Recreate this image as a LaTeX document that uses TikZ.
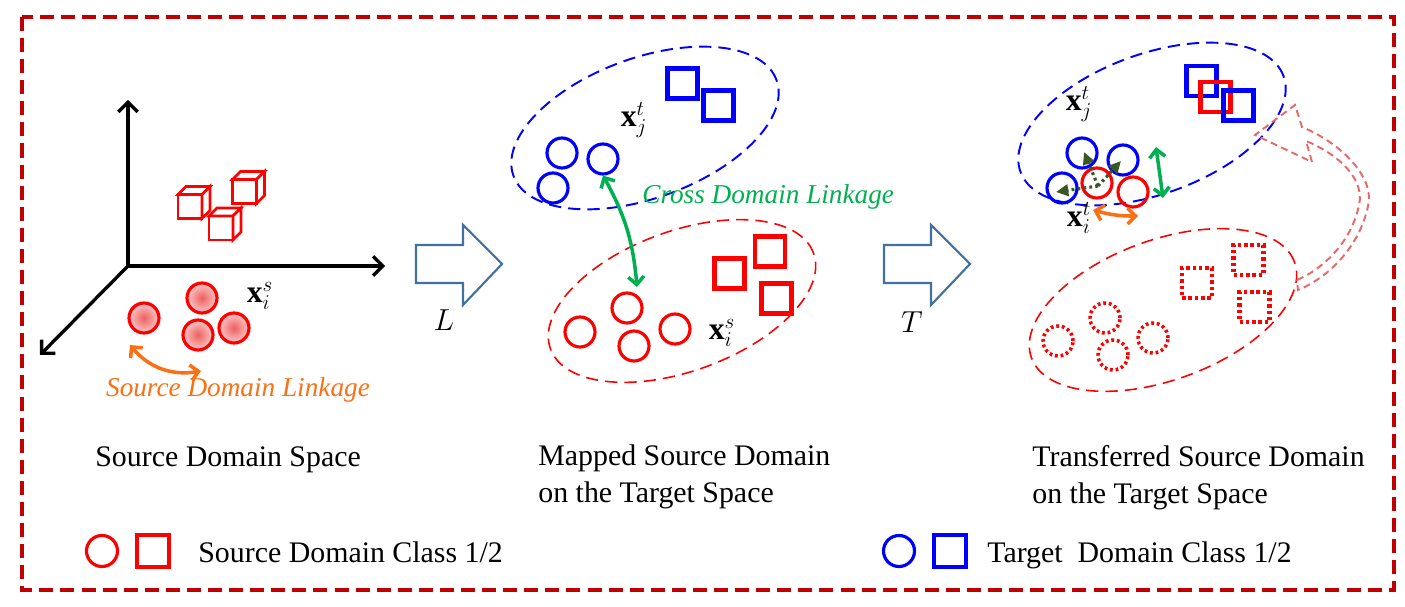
\documentclass[tikz,border=0pt]{standalone}
\usepackage{fontspec}
\setmainfont{Liberation Serif}
\usetikzlibrary{arrows.meta,calc}
\definecolor{bordred}{RGB}{192,0,0}
\definecolor{myred}{RGB}{255,0,0}
\definecolor{myblue}{RGB}{0,0,255}
\definecolor{lgreen}{RGB}{0,176,80}
\definecolor{dgreen}{RGB}{56,87,35}
\definecolor{myorange}{RGB}{250,112,20}
\definecolor{steel}{RGB}{65,113,156}
\definecolor{pinkred}{RGB}{232,105,105}
\definecolor{shin}{RGB}{238,95,95}
\definecolor{shout}{RGB}{250,200,200}
\tikzset{
  circ/.style={circle,draw,line width=1.8pt,minimum size=0.6cm,inner sep=0pt},
  rcirc/.style={circ,draw=myred},
  bcirc/.style={circ,draw=myblue},
  scirc/.style={rcirc,inner color=shin,outer color=shout},
  dcirc/.style={rcirc,line width=2pt,dash pattern=on 1.6pt off 1.6pt},
  sqr/.style={rectangle,draw,line width=2.4pt,minimum size=0.6cm,inner sep=0pt},
  rsq/.style={sqr,draw=myred},
  bsq/.style={sqr,draw=myblue},
  dsq/.style={rsq,dash pattern=on 2pt off 1.6pt},
  lbl/.style={font=\fontsize{17}{20}\selectfont,inner sep=0pt,anchor=base west},
  ital/.style={font=\fontsize{15.5}{18}\selectfont\itshape,inner sep=0pt},
  mlbl/.style={font=\fontsize{18}{20}\selectfont,inner sep=0pt},
  axis/.style={line width=1.9pt,-{Straight Barb[length=5.5pt,width=11pt]}},
  link/.style={line width=2pt,{Straight Barb[length=4.5pt,width=9pt]}-{Straight Barb[length=4.5pt,width=9pt]}},
  blockarr/.style={draw=steel,line width=1.2pt,line join=miter},
  bell/.style={draw=myblue,line width=1.1pt,dash pattern=on 7pt off 4pt},
  rell/.style={draw=myred,line width=0.9pt,dash pattern=on 7pt off 4pt},
  dotarr/.style={draw=dgreen,line width=1.8pt,dash pattern=on 1.6pt off 1.8pt,-{Triangle[length=7pt,width=6.5pt]}},
  cube/.pic={
    \draw[myred,line width=1.6pt,fill=white,line join=miter] (-12,-12) rectangle (12,12);
    \draw[myred,line width=1.6pt,fill=white,line join=miter] (-12,12) -- (-4,20) -- (20,20) -- (12,12) -- cycle;
    \draw[myred,line width=1.6pt,fill=white,line join=miter] (12,12) -- (20,20) -- (20,-4) -- (12,-12) -- cycle;
  }
}
\begin{document}
\begin{tikzpicture}[x=0.02cm,y=0.02cm]
\useasboundingbox (0,0) rectangle (1405,-607);
% border
\draw[bordred,line width=2.3pt,dash pattern=on 8pt off 4pt] (22,-17) rectangle (1394,-590);

% ---------- left panel ----------
\coordinate (O) at (128,-266);
\coordinate (ay) at (128,-100);
\coordinate (ax) at (385,-266);
\coordinate (az) at (40,-355);
\draw[axis] (O) -- (ay);
\draw[axis] (O) -- (ax);
\draw[axis] (O) -- (az);
\pic at (190,-206.5) {cube};
\pic at (244.5,-191.5) {cube};
\pic at (221,-228) {cube};
\node[scirc] (s1) at (144,-318) {};
\node[scirc] (s2) at (202,-298) {};
\node[scirc] (s3) at (198,-335) {};
\node[scirc] (s4) at (234,-328) {};
\node[mlbl] (xs1) at (260,-296) {$\mathbf{x}_i^s$};
\coordinate (ol1) at (130,-345);
\coordinate (ol2) at (201,-371);
\draw[link,myorange] (ol1) to[bend right=30] (ol2);
\node[ital,text=myorange] (sdl) at (238,-390) {Source Domain Linkage};

% ---------- arrow L ----------
\draw[blockarr] (416,-245) -- (463,-245) -- (463,-225) -- (502,-264) -- (463,-305) -- (463,-283) -- (416,-283) -- cycle;
\node[mlbl,font=\fontsize{16}{18}\selectfont] (Llbl) at (444,-320) {$L$};

% ---------- middle panel ----------
\draw[bell,rotate around={20:(645,-128)}] (645,-128) ellipse [x radius=2.8cm,y radius=1.4cm];
\draw[rell,rotate around={20:(682,-301)}] (682,-301) ellipse [x radius=2.8cm,y radius=1.4cm];
\node[bsq] (mb1) at (682.5,-83.5) {};
\node[bsq] (mb2) at (718.5,-105.5) {};
\node[bcirc] (mc1) at (562,-153) {};
\node[bcirc] (mc2) at (553,-188) {};
\node[bcirc] (mc3) at (603,-159) {};
\node[mlbl] (xjt1) at (634,-120) {$\mathbf{x}_j^t$};
\node[rsq] (ms1) at (729.5,-273.5) {};
\node[rsq] (ms2) at (770,-251.5) {};
\node[rsq] (ms3) at (776.5,-298.5) {};
\node[rcirc] (mr1) at (627,-308) {};
\node[rcirc] (mr2) at (580,-332) {};
\node[rcirc] (mr3) at (634,-346) {};
\node[rcirc] (mr4) at (675,-329) {};
\node[mlbl] (xs2) at (722,-333) {$\mathbf{x}_i^s$};
\coordinate (gl2) at (637,-287);
\draw[link,lgreen] (mc3.south) to[bend left=12] (gl2);
\node[ital,text=lgreen,anchor=west] (cdl) at (642,-197) {Cross Domain Linkage};

% ---------- arrow T ----------
\draw[blockarr] (884,-245) -- (931,-245) -- (931,-225) -- (970,-264) -- (931,-305) -- (931,-283) -- (884,-283) -- cycle;
\node[mlbl,font=\fontsize{16}{18}\selectfont] (Tlbl) at (912,-322) {$T$};

% ---------- right panel ----------
\draw[bell,rotate around={20:(1152,-124)}] (1152,-124) ellipse [x radius=2.8cm,y radius=1.4cm];
\draw[rell,rotate around={20:(1163,-310)}] (1163,-310) ellipse [x radius=2.8cm,y radius=1.4cm];
\node[bsq] (tb1) at (1201.5,-81) {};
\node[rsq] (tr1) at (1215.5,-97) {};
\node[bsq] (tb2) at (1238.5,-105.5) {};
\node[bcirc] (rb1) at (1082,-153) {};
\node[bcirc] (rb2) at (1123,-160) {};
\node[bcirc] (rb3) at (1062,-188) {};
\node[rcirc] (rr1) at (1097,-183) {};
\node[rcirc] (rr2) at (1133,-192) {};
\node[mlbl] (xjt2) at (1079,-104) {$\mathbf{x}_j^t$};
\node[mlbl] (xit) at (1079,-218) {$\mathbf{x}_i^t$};
\coordinate (d0) at (1098,-186);
\coordinate (d1) at (1084,-152);
\coordinate (d2) at (1121,-161);
\coordinate (d3) at (1056,-192);
\draw[dotarr] (d0) -- (d1);
\draw[dotarr] (d0) -- (d2);
\draw[dotarr] (d0) -- (d3);
\coordinate (g1) at (1156,-147);
\coordinate (g2) at (1163,-198);
\draw[link,lgreen] (g1) -- (g2);
\coordinate (o1) at (1093,-210);
\coordinate (o2) at (1138,-216);
\draw[link,myorange] (o1) to[bend right=8] (o2);
\node[dsq] (ds1) at (1197,-283) {};
\node[dsq] (ds2) at (1248.5,-260) {};
\node[dsq] (ds3) at (1254.5,-307) {};
\node[dcirc] (dc1) at (1058,-341) {};
\node[dcirc] (dc2) at (1105,-318) {};
\node[dcirc] (dc3) at (1113,-355) {};
\node[dcirc] (dc4) at (1153,-338) {};
% curved hollow arrow
\draw[pinkred,line width=1.1pt,dash pattern=on 4pt off 2.5pt,line join=miter]
  (1297,-280) .. controls (1325,-268) and (1352,-240) .. (1359,-205)
  .. controls (1365,-180) and (1340,-155) .. (1306,-141)
  -- (1312,-162) -- (1255,-135) -- (1295,-105) -- (1302,-127)
  .. controls (1345,-145) and (1375,-180) .. (1368,-206)
  .. controls (1360,-245) and (1330,-277) .. (1298,-290) -- cycle;

% ---------- captions ----------
\node[lbl] (cap1) at (95,-466) {Source Domain Space};
\node[lbl] (cap2a) at (538,-465) {Mapped Source Domain};
\node[lbl] (cap2b) at (538,-502) {on the Target Space};
\node[lbl] (cap3a) at (1032,-466) {Transferred Source Domain};
\node[lbl] (cap3b) at (1032,-503) {on the Target Space};

% ---------- legend ----------
\node[rcirc,minimum size=0.62cm] (lgc1) at (102,-551) {};
\node[rsq,minimum size=0.64cm] (lgs1) at (153,-551) {};
\node[lbl] (lgt1) at (198,-562) {Source Domain Class 1/2};
\node[bcirc,minimum size=0.62cm] (lgc2) at (899,-551) {};
\node[bsq,minimum size=0.64cm] (lgs2) at (950,-551) {};
\node[lbl] (lgt2) at (987,-562) {Target\ \ Domain Class 1/2};
\end{tikzpicture}
\end{document}
